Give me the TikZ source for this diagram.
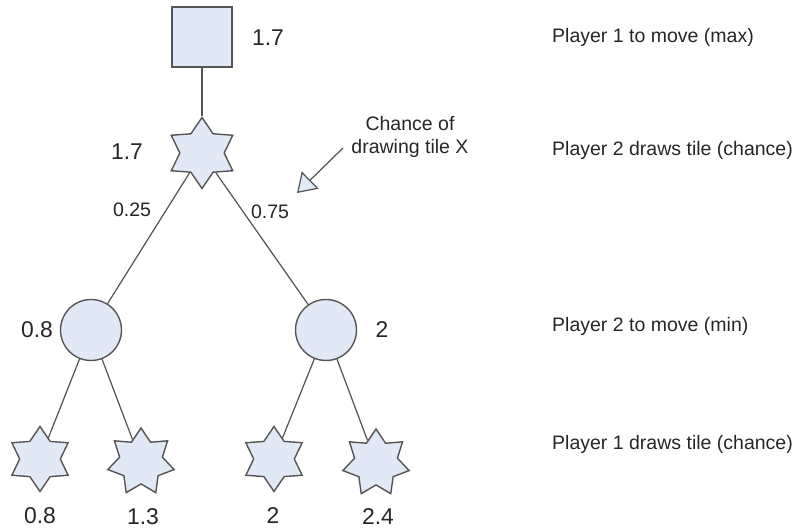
\documentclass[tikz,border=0pt]{standalone}
\usepackage{fontspec}
\setmainfont{Liberation Sans}
\usetikzlibrary{shapes.geometric}
\usetikzlibrary{arrows.meta}

\definecolor{nodefill}{RGB}{226,233,246}
\definecolor{edgegray}{RGB}{85,85,85}

\tikzset{
  maxbox/.style={draw=edgegray, fill=nodefill, line width=0.8pt, minimum size=1.2cm, inner sep=0pt},
  minball/.style={circle, draw=edgegray, fill=nodefill, line width=0.8pt, minimum size=1.22cm, inner sep=0pt},
  hexstar/.style={star, star points=6, star point ratio=1.6, draw=edgegray, fill=nodefill,
    line width=0.8pt, inner sep=0pt, minimum size=#1},
  heptstar/.style={star, star points=7, star point ratio=1.55, draw=edgegray, fill=nodefill,
    line width=0.8pt, inner sep=0pt, minimum size=#1},
  val/.style={font=\fontsize{13}{15}\selectfont, text=black!85},
  prob/.style={font=\fontsize{11.1}{13.3}\selectfont, text=black!85},
  level/.style={font=\fontsize{11.1}{13.3}\selectfont, text=black!85, anchor=west},
  edge/.style={draw=edgegray, line width=0.7pt}
}

\begin{document}
\begin{tikzpicture}[x=0.02cm, y=-0.02cm]
  \useasboundingbox (0,0) rectangle (794,530);

  % tree nodes
  \node [maxbox] (root) at (202,37) {};
  \node [hexstar=1.42cm] (draw2) at (202,153) {};
  \node [minball] (minL) at (91,330) {};
  \node [minball] (minR) at (326,330) {};
  \node [hexstar=1.3cm] (leafA) at (40,459) {};
  \node [heptstar=1.36cm] (leafB) at (141,462) {};
  \node [hexstar=1.3cm] (leafC) at (274,459) {};
  \node [heptstar=1.36cm] (leafD) at (376,463) {};

  % edges
  \draw [edge] (root) -- (draw2);
  \draw [edge] (draw2) -- (minL);
  \draw [edge] (draw2) -- (minR);
  \draw [edge] (minL) -- (leafA);
  \draw [edge] (minL) -- (leafB);
  \draw [edge] (minR) -- (leafC);
  \draw [edge] (minR) -- (leafD);

  % backed-up values
  \node [val] (vRoot) at (268,38) {1.7};
  \node [val] (vDraw) at (127,152) {1.7};
  \node [val] (vMinL) at (37,330) {0.8};
  \node [val] (vMinR) at (382,330) {2};
  \node [val] (vA) at (40,516) {0.8};
  \node [val] (vB) at (143,517) {1.3};
  \node [val] (vC) at (273,516) {2};
  \node [val] (vD) at (378,517) {2.4};

  % probabilities
  \node [prob] (pL) at (132,210) {0.25};
  \node [prob] (pR) at (270,212) {0.75};

  % note with arrow
  \node [prob, align=center] (note) at (410,137) {Chance of\\drawing tile X};
  \coordinate (n1) at (343,148);
  \coordinate (n2) at (297,193);
  \draw [edge, -{Triangle[length=3.7mm, width=4.8mm, fill=nodefill]}] (n1) -- (n2);

  % levels
  \node [level] (l1) at (546,37) {Player 1 to move (max)};
  \node [level] (l2) at (546,150) {Player 2 draws tile (chance)};
  \node [level] (l3) at (546,326) {Player 2 to move (min)};
  \node [level] (l4) at (546,444) {Player 1 draws tile (chance)};
\end{tikzpicture}
\end{document}
